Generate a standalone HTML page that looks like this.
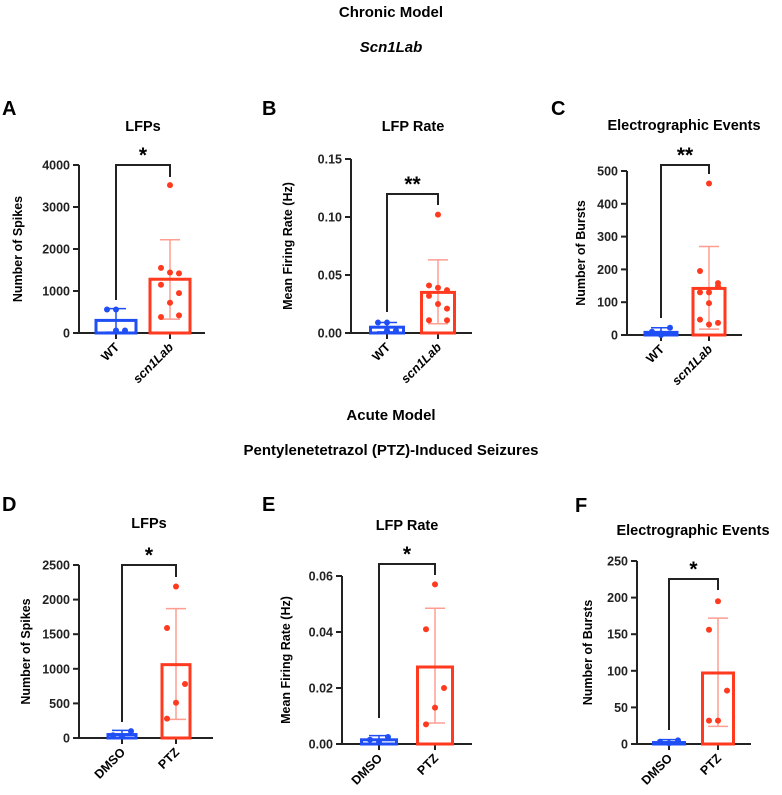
<!DOCTYPE html>
<html><head><meta charset="utf-8"><style>
body{margin:0;background:#fff}
svg{display:block;font-family:"Liberation Sans",Arial,sans-serif}
</style></head><body>
<svg id="fig" width="782" height="795" viewBox="0 0 782 795">
<text x="391" y="17" text-anchor="middle" font-weight="bold" font-size="15">Chronic Model</text>
<text x="391" y="52" text-anchor="middle" font-weight="bold" font-style="italic" font-size="15">Scn1Lab</text>
<text x="391" y="420" text-anchor="middle" font-weight="bold" font-size="15">Acute Model</text>
<text x="391" y="455" text-anchor="middle" font-weight="bold" font-size="15">Pentylenetetrazol (PTZ)-Induced Seizures</text>
</svg>
<script>
const categoriesChronic = ["WT", "scn1Lab"];
const categoriesAcute = ["DMSO", "PTZ"];
const meansA = [300, 1280];
const sdHighA = [580, 2220];
const sdLowA = [20, 330];
const pointsA = [[560, 560, 60, 60], [3520, 1550, 1420, 1440, 1150, 950, 720, 380, 420]];
const ticksA = [0, 1000, 2000, 3000, 4000];
const meansB = [0.005, 0.035];
const sdHighB = [0.009, 0.063];
const sdLowB = [0.001, 0.008];
const pointsB = [[0.009, 0.009, 0.002, 0.002], [0.102, 0.041, 0.037, 0.039, 0.032, 0.021, 0.025, 0.011, 0.011]];
const ticksB = [0, 0.05, 0.10, 0.15];
const meansC = [8, 142];
const sdHighC = [22, 270];
const sdLowC = [0, 18];
const pointsC = [[0, 10, 22, 5], [462, 195, 148, 130, 130, 158, 97, 47, 37, 32]];
const ticksC = [0, 100, 200, 300, 400, 500];
const meansD = [50, 1060];
const sdHighD = [110, 1870];
const sdLowD = [0, 270];
const pointsD = [[20, 40, 100], [2190, 1590, 780, 510, 280]];
const ticksD = [0, 500, 1000, 1500, 2000, 2500];
const meansE = [0.0015, 0.0275];
const sdHighE = [0.003, 0.0485];
const sdLowE = [0, 0.0075];
const pointsE = [[0.001, 0.0015, 0.0025], [0.057, 0.041, 0.020, 0.013, 0.007]];
const ticksE = [0, 0.02, 0.04, 0.06];
const meansF = [2, 97];
const sdHighF = [6, 172];
const sdLowF = [0, 24];
const pointsF = [[1, 3, 5], [195, 156, 73, 32, 32]];
const ticksF = [0, 50, 100, 150, 200, 250];

const NS = "http://www.w3.org/2000/svg";
const svg = document.getElementById("fig");
function mk(tag, attrs, parent, text) {
  const e = document.createElementNS(NS, tag);
  for (const k in attrs) e.setAttribute(k, attrs[k]);
  if (text !== undefined) e.textContent = text;
  (parent || svg).appendChild(e);
  return e;
}
const BLUE = "#1f4ef5", RED = "#ff3a1f", LRED = "#ff9d90";

function panel(cfg, cats, means, hi, lo, pts, ticks) {
  const g = mk("g", {});
  
  
  const ymax = ticks[ticks.length - 1];
  const y = v => cfg.y0 - (v / ymax) * (cfg.y0 - cfg.yTop);
  const L = mk("text", {x: cfg.lx, y: cfg.ly, "font-weight": "bold", "font-size": 20}, g, cfg.letter);
  
  
  const T = mk("text", {x: cfg.tx, y: cfg.ty, "text-anchor": "middle", "font-weight": "bold", "font-size": 14.5}, g, cfg.title);
  
  
  const yt = mk("text", {x: 0, y: 0, "text-anchor": "middle", "font-weight": "bold", "font-size": 12.5,
    transform: `translate(${cfg.ylx},${(cfg.y0 + cfg.yTop) / 2}) rotate(-90)`}, g, cfg.ylabel);
  
  
  const ya = mk("line", {x1: cfg.ax, x2: cfg.ax, y1: cfg.yTop, y2: cfg.y0, stroke: "#222", "stroke-width": 2}, g);
  
  
  const xa = mk("line", {x1: cfg.ax - 6, x2: cfg.xEnd, y1: cfg.y0, y2: cfg.y0, stroke: "#222", "stroke-width": 2}, g);
  
  
  ticks.forEach(t => {
    const tk = mk("line", {x1: cfg.ax - 6, x2: cfg.ax, y1: y(t), y2: y(t), stroke: "#222", "stroke-width": 2}, g);
    
    
    const tl = mk("text", {x: cfg.ax - 9, y: y(t) + 4.5, "text-anchor": "end", "font-weight": "bold", "font-size": 12.5, fill: "#222"}, g, cfg.fmt(t));
    
    
  });
  cats.forEach((c, i) => {
    const cx = cfg.cx[i], col = i === 0 ? BLUE : RED, ecol = i === 0 ? BLUE : LRED;
    const tk = mk("line", {x1: cx, x2: cx, y1: cfg.y0, y2: cfg.y0 + 6, stroke: "#222", "stroke-width": 2}, g);
    
    
    const xl = mk("text", {x: 0, y: 0, "text-anchor": "end", "font-weight": "bold", "font-size": 12.5,
      "font-style": c === "scn1Lab" ? "italic" : "normal",
      transform: `translate(${cx + 4},${cfg.y0 + 15}) rotate(-45)`}, g, c);
    
    
    const eb = mk("line", {x1: cx, x2: cx, y1: y(hi[i]), y2: y(lo[i]), stroke: ecol, "stroke-width": 1.5}, g);
    
    
    [hi[i], lo[i]].forEach(v => {
      const cap = mk("line", {x1: cx - 10, x2: cx + 10, y1: y(v), y2: y(v), stroke: ecol, "stroke-width": 1.5}, g);
      
      
    });
    const bar = mk("rect", {x: cx - cfg.bw / 2, y: y(means[i]), width: cfg.bw, height: cfg.y0 - y(means[i]), fill: "none", stroke: col, "stroke-width": 3}, g);
    
    
    pts[i].forEach((v, j) => {
      const off = (j % 3 === 0 ? 0 : (j % 3 === 1 ? -9 : 9)) * (j === 0 ? 0 : 1);
      const p = mk("circle", {cx: cx + off, cy: y(v), r: 3, fill: col}, g);
      
      
    });
  });
  const b = mk("path", {d: `M${cfg.cx[0]},${cfg.bl} V${cfg.by} H${cfg.cx[1]} V${cfg.br}`, fill: "none", stroke: "#222", "stroke-width": 2}, g);
  
  
  const s = mk("text", {x: (cfg.cx[0] + cfg.cx[1]) / 2, y: cfg.by - 3, "text-anchor": "middle", "font-weight": "bold", "font-size": 21}, g, cfg.star);
  
  
}
const f0 = t => String(t), f2 = t => t.toFixed(2);
panel({letter: "A", lx: 2, ly: 115, title: "LFPs", tx: 143, ty: 131, ylabel: "Number of Spikes", ylx: 22, ax: 79, yTop: 165, y0: 333, xEnd: 205, cx: [116, 170], bw: 40, by: 165, bl: 300, br: 177, star: "*", fmt: f0},
  categoriesChronic, meansA, sdHighA, sdLowA, pointsA, ticksA);
panel({letter: "B", lx: 262, ly: 115, title: "LFP Rate", tx: 413, ty: 131, ylabel: "Mean Firing Rate (Hz)", ylx: 292, ax: 351, yTop: 159, y0: 333, xEnd: 472, cx: [387, 438], bw: 33, by: 194, bl: 312, br: 205, star: "**", fmt: f2},
  categoriesChronic, meansB, sdHighB, sdLowB, pointsB, ticksB);
panel({letter: "C", lx: 551, ly: 115, title: "Electrographic Events", tx: 684, ty: 130, ylabel: "Number of Bursts", ylx: 585, ax: 627, yTop: 171, y0: 335, xEnd: 742, cx: [661, 709], bw: 32, by: 165, bl: 318, br: 174, star: "**", fmt: f0},
  categoriesChronic, meansC, sdHighC, sdLowC, pointsC, ticksC);
panel({letter: "D", lx: 2, ly: 511, title: "LFPs", tx: 149, ty: 528, ylabel: "Number of Spikes", ylx: 30, ax: 79, yTop: 565, y0: 738, xEnd: 213, cx: [122, 176], bw: 28, by: 565, bl: 722, br: 577, star: "*", fmt: f0},
  categoriesAcute, meansD, sdHighD, sdLowD, pointsD, ticksD);
panel({letter: "E", lx: 262, ly: 511, title: "LFP Rate", tx: 407, ty: 530, ylabel: "Mean Firing Rate (Hz)", ylx: 290, ax: 342, yTop: 576, y0: 744, xEnd: 472, cx: [379, 435], bw: 35, by: 564, bl: 718, br: 575, star: "*", fmt: f2},
  categoriesAcute, meansE, sdHighE, sdLowE, pointsE, ticksE);
panel({letter: "F", lx: 575, ly: 512, title: "Electrographic Events", tx: 693, ty: 535, ylabel: "Number of Bursts", ylx: 592, ax: 637, yTop: 561, y0: 744, xEnd: 751, cx: [669, 718], bw: 31, by: 579, bl: 730, br: 590, star: "*", fmt: f0},
  categoriesAcute, meansF, sdHighF, sdLowF, pointsF, ticksF);
</script>
</body></html>
